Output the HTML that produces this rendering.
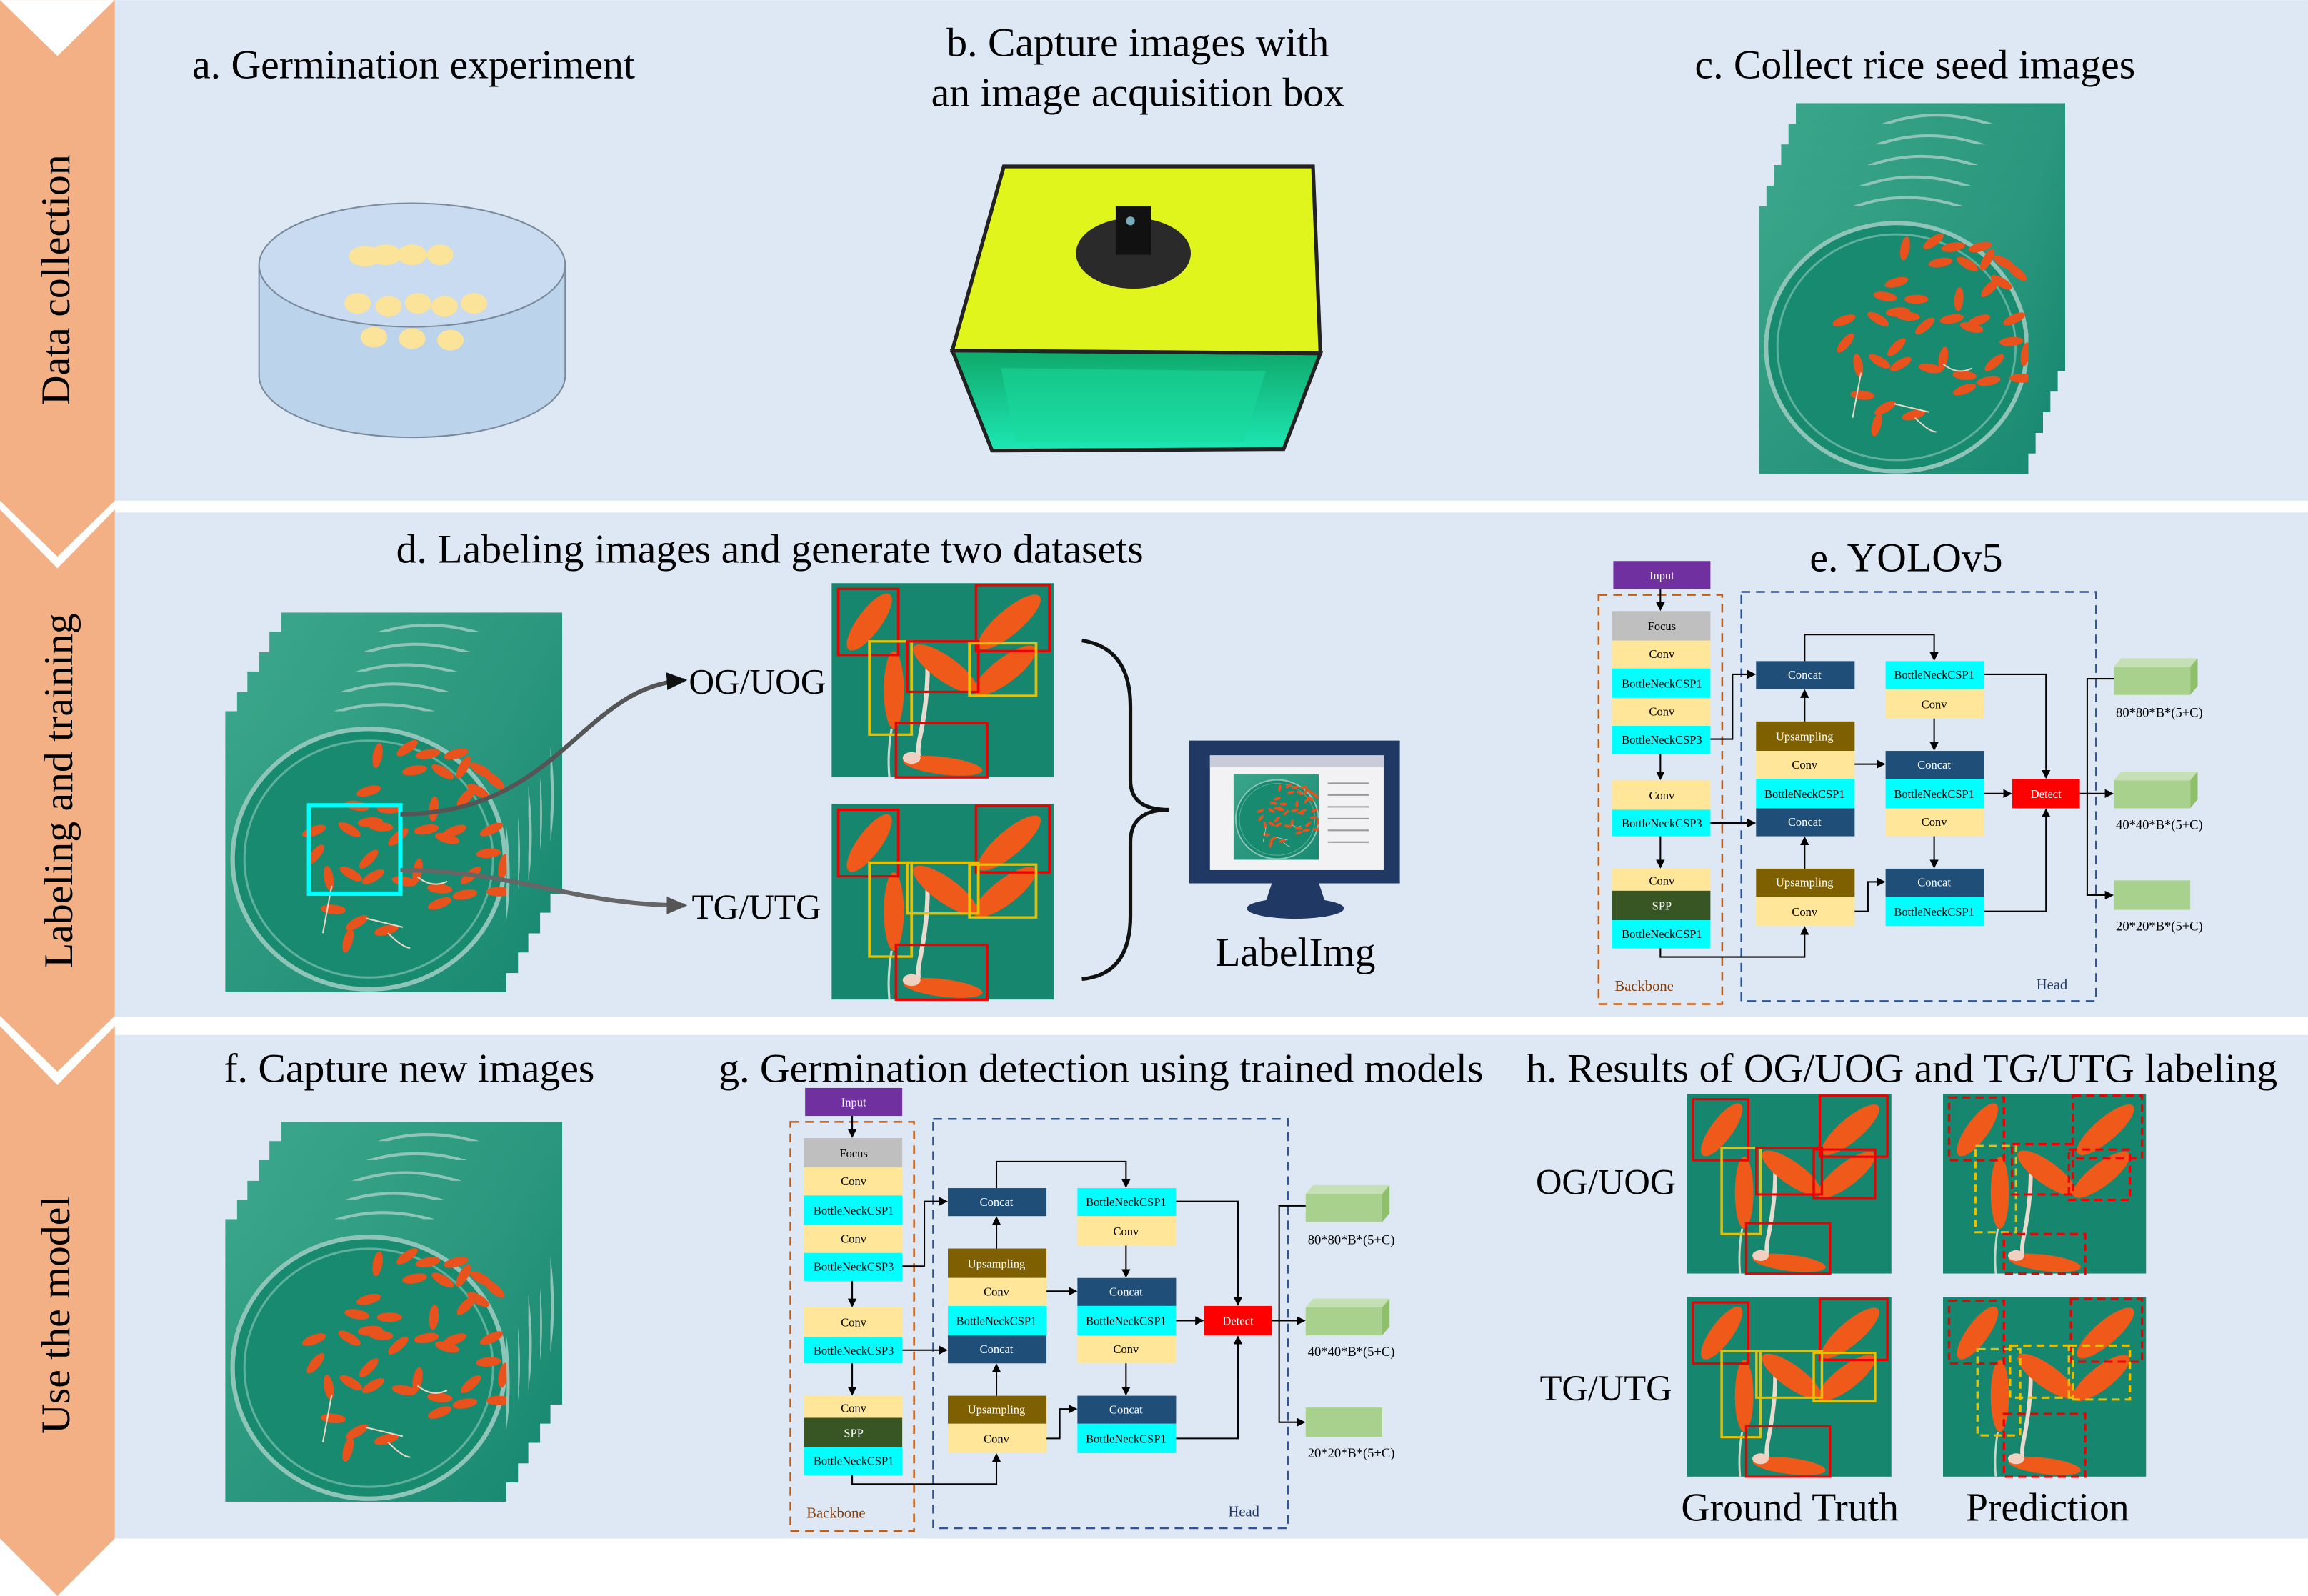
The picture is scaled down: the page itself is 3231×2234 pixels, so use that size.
<!DOCTYPE html>
<html><head><meta charset="utf-8"><style>
html,body{margin:0;padding:0;background:#fff;}
svg{display:block;}
text{font-family:"Liberation Serif",serif;}
</style></head><body>
<svg width="3231" height="2234" viewBox="0 0 1568 1084" xmlns="http://www.w3.org/2000/svg" xmlns:xlink="http://www.w3.org/1999/xlink">
<defs>
<marker id="ah" markerWidth="6" markerHeight="6" refX="5" refY="3" orient="auto" markerUnits="userSpaceOnUse"><path d="M0,0 L6,3 L0,6 z" fill="#000"/></marker>
<marker id="ahb" markerWidth="14" markerHeight="12" refX="12" refY="6" orient="auto" markerUnits="userSpaceOnUse"><path d="M0,0 L14,6 L0,12 z" fill="#111"/></marker>
<marker id="ahg" markerWidth="14" markerHeight="12" refX="12" refY="6" orient="auto" markerUnits="userSpaceOnUse"><path d="M0,0 L14,6 L0,12 z" fill="#555"/></marker>
<linearGradient id="teal" x1="0" y1="0" x2="1" y2="1"><stop offset="0" stop-color="#3aa58a"/><stop offset="1" stop-color="#1a8a72"/></linearGradient>
<linearGradient id="grn" x1="0" y1="0" x2="0" y2="1"><stop offset="0" stop-color="#0fa86a"/><stop offset="1" stop-color="#1de8b4"/></linearGradient>
<g id="seed"><ellipse cx="0" cy="0" rx="8.5" ry="3.2" fill="#e8521c"/></g>
<symbol id="dish" viewBox="0 0 190 190" preserveAspectRatio="none">
<rect width="190" height="190" fill="url(#teal)"/>
<ellipse cx="97" cy="100" rx="92" ry="88" fill="#178a70" stroke="#8fc5b8" stroke-width="3"/>
<ellipse cx="97" cy="100" rx="84" ry="80" fill="none" stroke="#5fb09d" stroke-width="1.5"/>
<g>
<use xlink:href="#seed" transform="translate(103,30) rotate(-80)"/>
<use xlink:href="#seed" transform="translate(123,25) rotate(-35)"/>
<use xlink:href="#seed" transform="translate(137,29) rotate(-10)"/>
<use xlink:href="#seed" transform="translate(156,29) rotate(-15)"/>
<use xlink:href="#seed" transform="translate(161,38) rotate(-60)"/>
<use xlink:href="#seed" transform="translate(173,40) rotate(30)"/>
<use xlink:href="#seed" transform="translate(182,47) rotate(40)"/>
<use xlink:href="#seed" transform="translate(128,40) rotate(-10)"/>
<use xlink:href="#seed" transform="translate(147,41) rotate(30)"/>
<use xlink:href="#seed" transform="translate(171,54) rotate(30)"/>
<use xlink:href="#seed" transform="translate(163,58) rotate(-45)"/>
<use xlink:href="#seed" transform="translate(97,54) rotate(-15)"/>
<use xlink:href="#seed" transform="translate(89,64) rotate(10)"/>
<use xlink:href="#seed" transform="translate(111,66) rotate(0)"/>
<use xlink:href="#seed" transform="translate(141,66) rotate(-85)"/>
<use xlink:href="#seed" transform="translate(98,75) rotate(-5)"/>
<use xlink:href="#seed" transform="translate(155,81) rotate(-20)"/>
<use xlink:href="#seed" transform="translate(180,80) rotate(-25)"/>
<use xlink:href="#seed" transform="translate(60,81) rotate(-20)"/>
<use xlink:href="#seed" transform="translate(84,80) rotate(30)"/>
<use xlink:href="#seed" transform="translate(105,78) rotate(5)"/>
<use xlink:href="#seed" transform="translate(117,85) rotate(-40)"/>
<use xlink:href="#seed" transform="translate(136,80) rotate(-10)"/>
<use xlink:href="#seed" transform="translate(150,86) rotate(15)"/>
<use xlink:href="#seed" transform="translate(178,96) rotate(-5)"/>
<use xlink:href="#seed" transform="translate(61,97) rotate(-50)"/>
<use xlink:href="#seed" transform="translate(97,100) rotate(-45)"/>
<use xlink:href="#seed" transform="translate(70,113) rotate(80)"/>
<use xlink:href="#seed" transform="translate(85,110) rotate(30)"/>
<use xlink:href="#seed" transform="translate(100,112) rotate(-30)"/>
<use xlink:href="#seed" transform="translate(130,108) rotate(-80)"/>
<use xlink:href="#seed" transform="translate(121,115) rotate(10)"/>
<use xlink:href="#seed" transform="translate(188,105) rotate(-80)"/>
<use xlink:href="#seed" transform="translate(166,111) rotate(-40)"/>
<use xlink:href="#seed" transform="translate(145,120) rotate(5)"/>
<use xlink:href="#seed" transform="translate(162,124) rotate(-10)"/>
<use xlink:href="#seed" transform="translate(185,122) rotate(0)"/>
<use xlink:href="#seed" transform="translate(73,134) rotate(5)"/>
<use xlink:href="#seed" transform="translate(89,143) rotate(-30)"/>
<use xlink:href="#seed" transform="translate(109,148) rotate(-15)"/>
<use xlink:href="#seed" transform="translate(145,130) rotate(-20)"/>
<use xlink:href="#seed" transform="translate(83,155) rotate(-75)"/>
</g>
<path d="M72,118 L66,150 M95,140 L120,146 M110,150 Q120,160 125,160 M130,112 Q140,120 150,115" stroke="#e8d8c8" stroke-width="1" fill="none"/>
</symbol>
<symbol id="plain" viewBox="0 0 190 190" preserveAspectRatio="none">
<rect width="190" height="190" fill="url(#teal)"/>
<path d="M55,18 Q100,-2 150,20" stroke="#8fc5b8" stroke-width="2" fill="none"/>
<path d="M175,60 Q190,120 178,170" stroke="#8fc5b8" stroke-width="2" fill="none"/>
</symbol>
<symbol id="crop" viewBox="0 0 100 100" preserveAspectRatio="none">
<rect width="100" height="100" fill="#17866f"/>
<path d="M43,36 Q44,55 40,78 Q38,88 40,92" stroke="#e8dcd0" stroke-width="2" fill="none"/>
<path d="M27,75 Q25,88 26,100" stroke="#c8d8cc" stroke-width="1" fill="none"/>
<ellipse cx="17" cy="20" rx="17" ry="5.5" fill="#ef5a1a" transform="rotate(-58 17 20)"/>
<ellipse cx="80" cy="20" rx="19" ry="6" fill="#ef5a1a" transform="rotate(-45 80 20)"/>
<ellipse cx="28" cy="55" rx="4.5" ry="20" fill="#ef5a1a"/>
<ellipse cx="51" cy="44" rx="18" ry="6" fill="#ef5a1a" transform="rotate(40 51 44)"/>
<ellipse cx="78" cy="45" rx="18" ry="6" fill="#ef5a1a" transform="rotate(-42 78 45)"/>
<ellipse cx="50" cy="94" rx="18" ry="4.5" fill="#ef5a1a" transform="rotate(8 50 94)"/>
<ellipse cx="36" cy="90" rx="4" ry="3" fill="#f0d0c0"/>
</symbol>
</defs>

<rect x="0" y="0" width="1568" height="1084" fill="#fff"/>
<rect x="78" y="0" width="1490" height="340" fill="#dde8f4"/>
<rect x="78" y="348" width="1490" height="343" fill="#dde8f4"/>
<rect x="78" y="703" width="1490" height="342" fill="#dde8f4"/>

<polygon points="0,0 78,0 78,340 39,378 0,340" fill="#f3b084"/>
<polygon points="0,0 39,38 78,0" fill="#fff"/>
<polygon points="0,346 39,386 78,346 78,690 39,728 0,690" fill="#f3b084"/>
<polygon points="0,697 39,737 78,697 78,1045 39,1084 0,1045" fill="#f3b084"/>
<text transform="translate(47,190) rotate(-90)" font-size="28" text-anchor="middle">Data collection</text>
<text transform="translate(49,537) rotate(-90)" font-size="28" text-anchor="middle">Labeling and training</text>
<text transform="translate(47,893) rotate(-90)" font-size="28" text-anchor="middle">Use the model</text>

<text x="281" y="53" font-size="28" text-anchor="middle">a. Germination experiment</text>
<text x="773" y="38" font-size="28" text-anchor="middle">b. Capture images with</text>
<text x="773" y="72" font-size="28" text-anchor="middle">an image acquisition box</text>
<text x="1301" y="53" font-size="28" text-anchor="middle">c. Collect rice seed images</text>

<path d="M176,180 L176,255 A104,42 0 0 0 384,255 L384,180 Z" fill="#bcd3ec" stroke="#7a8a9a" stroke-width="1"/>
<ellipse cx="280" cy="180" rx="104" ry="42" fill="#c8dbf0" stroke="#7a8a9a" stroke-width="1"/>
<g fill="#fbe39a">
<ellipse cx="248" cy="174" rx="11" ry="7"/><ellipse cx="262" cy="173" rx="11" ry="7"/><ellipse cx="280" cy="173" rx="10" ry="7"/><ellipse cx="299" cy="173" rx="9" ry="7"/>
<ellipse cx="243" cy="206" rx="9" ry="7"/><ellipse cx="264" cy="208" rx="9" ry="7"/><ellipse cx="284" cy="206" rx="9" ry="7"/><ellipse cx="302" cy="208" rx="9" ry="7"/><ellipse cx="322" cy="206" rx="9" ry="7"/>
<ellipse cx="254" cy="229" rx="9" ry="7"/><ellipse cx="280" cy="230" rx="9" ry="7"/><ellipse cx="306" cy="231" rx="9" ry="7"/>
</g>

<polygon points="647,238 897,240 872,305 674,306" fill="url(#grn)" stroke="#222" stroke-width="2.5"/>
<polygon points="680,250 860,252 845,300 690,300" fill="#1ad99c" opacity="0.5"/>
<polygon points="682,113 892,113 897,240 647,238" fill="#dff51c" stroke="#222" stroke-width="2.5"/>
<ellipse cx="770" cy="172" rx="39" ry="24" fill="#2a2a2a"/>
<rect x="758" y="140" width="24" height="33" fill="#111"/>
<circle cx="768" cy="150" r="3" fill="#7ab"/>

<g>
<use xlink:href="#plain" x="1220" y="70" width="183" height="182"/>
<use xlink:href="#plain" x="1215" y="84" width="183" height="182"/>
<use xlink:href="#plain" x="1210" y="98" width="183" height="182"/>
<use xlink:href="#plain" x="1205" y="112" width="183" height="182"/>
<use xlink:href="#plain" x="1200" y="126" width="183" height="182"/>
<use xlink:href="#dish" x="1195" y="140" width="183" height="182"/>
</g>

<text x="523" y="382" font-size="28" text-anchor="middle">d. Labeling images and generate two datasets</text>
<text x="1295" y="388" font-size="28" text-anchor="middle">e. YOLOv5</text>
<g>
<use xlink:href="#plain" x="191" y="416" width="191" height="191"/>
<use xlink:href="#plain" x="183" y="429" width="191" height="191"/>
<use xlink:href="#plain" x="176" y="443" width="191" height="191"/>
<use xlink:href="#plain" x="168" y="456" width="191" height="191"/>
<use xlink:href="#plain" x="161" y="470" width="191" height="191"/>
<use xlink:href="#dish" x="153" y="483" width="191" height="191"/>
</g>
<rect x="210" y="547" width="62" height="60" fill="none" stroke="#00ffff" stroke-width="3"/>
<path d="M272,553 C380,553 395,466 465,462" stroke="#555" stroke-width="3" fill="none" marker-end="url(#ahb)"/>
<path d="M272,591 C350,591 390,615 465,615" stroke="#666" stroke-width="3" fill="none" marker-end="url(#ahg)"/>
<text x="468" y="471" font-size="24">OG/UOG</text>
<text x="470" y="624" font-size="24">TG/UTG</text>

<use xlink:href="#crop" x="565" y="396" width="151" height="132"/>
<g fill="none" stroke-width="1.2" transform="translate(565,396) scale(1.51,1.32)">
<rect x="3" y="3" width="27" height="34" stroke="#e00"/><rect x="65" y="1" width="33" height="34" stroke="#e00"/>
<rect x="17" y="30" width="19" height="48" stroke="#e8c000"/><rect x="34" y="30" width="32" height="26" stroke="#e00"/>
<rect x="62" y="31" width="30" height="27" stroke="#e8c000"/><rect x="29" y="72" width="41" height="28" stroke="#e00"/>
</g>
<use xlink:href="#crop" x="565" y="546" width="151" height="133"/>
<g fill="none" stroke-width="1.2" transform="translate(565,546) scale(1.51,1.33)">
<rect x="3" y="3" width="27" height="34" stroke="#e00"/><rect x="65" y="1" width="33" height="34" stroke="#e00"/>
<rect x="17" y="30" width="19" height="48" stroke="#e8c000"/><rect x="34" y="30" width="32" height="26" stroke="#e8c000"/>
<rect x="62" y="31" width="30" height="27" stroke="#e8c000"/><rect x="29" y="72" width="41" height="28" stroke="#e00"/>
</g>

<path d="M735,435 Q768,440 768,480 L768,530 Q768,550 794,550 Q768,550 768,572 L768,622 Q768,662 735,665" stroke="#111" stroke-width="2.5" fill="none"/>

<rect x="808" y="503" width="143" height="97" fill="#1f3864"/>
<rect x="822" y="513" width="118" height="78" fill="#f2f2f4"/>
<rect x="822" y="513" width="118" height="8" fill="#c8ccd8"/>
<use xlink:href="#dish" x="838" y="526" width="58" height="58"/>
<g stroke="#999" stroke-width="1"><line x1="902" y1="532" x2="930" y2="532"/><line x1="902" y1="540" x2="930" y2="540"/><line x1="902" y1="548" x2="930" y2="548"/><line x1="902" y1="556" x2="930" y2="556"/><line x1="902" y1="564" x2="930" y2="564"/><line x1="902" y1="572" x2="930" y2="572"/></g>
<polygon points="864,600 896,600 900,612 860,612" fill="#1f3864"/>
<ellipse cx="880" cy="617" rx="33" ry="7" fill="#1f3864"/>
<text x="880" y="656" font-size="28" text-anchor="middle">LabelImg</text>

<g id="yolo" font-size="8" text-anchor="middle">
<rect x="1096" y="381" width="66" height="19" fill="#7030a0"/><text x="1129" y="393.5" fill="#fff">Input</text>
<rect x="1086" y="404" width="84" height="278" fill="none" stroke="#c55a11" stroke-width="1.2" stroke-dasharray="6,4"/>
<rect x="1183" y="402" width="241" height="278" fill="none" stroke="#2f5597" stroke-width="1.2" stroke-dasharray="6,4"/>
<text x="1117" y="673" fill="#843c0c" font-size="10">Backbone</text>
<text x="1394" y="672" fill="#1f3864" font-size="10">Head</text>
<rect x="1095" y="415" width="67" height="20" fill="#bfbfbf"/><text x="1129" y="428">Focus</text>
<rect x="1095" y="435" width="67" height="19" fill="#ffe699"/><text x="1129" y="447">Conv</text>
<rect x="1095" y="454" width="67" height="20" fill="#00ffff"/><text x="1129" y="467">BottleNeckCSP1</text>
<rect x="1095" y="474" width="67" height="19" fill="#ffe699"/><text x="1129" y="486">Conv</text>
<rect x="1095" y="493" width="67" height="19" fill="#00ffff"/><text x="1129" y="505">BottleNeckCSP3</text>
<rect x="1095" y="530" width="67" height="20" fill="#ffe699"/><text x="1129" y="543">Conv</text>
<rect x="1095" y="550" width="67" height="18" fill="#00ffff"/><text x="1129" y="562">BottleNeckCSP3</text>
<rect x="1095" y="590" width="67" height="15" fill="#ffe699"/><text x="1129" y="601">Conv</text>
<rect x="1095" y="605" width="67" height="20" fill="#375623"/><text x="1129" y="618" fill="#fff">SPP</text>
<rect x="1095" y="625" width="67" height="19" fill="#00ffff"/><text x="1129" y="637">BottleNeckCSP1</text>
<rect x="1193" y="449" width="67" height="19" fill="#1f4e79"/><text x="1226" y="461" fill="#fff">Concat</text>
<rect x="1193" y="490" width="67" height="20" fill="#7f6000"/><text x="1226" y="503" fill="#fff">Upsampling</text>
<rect x="1193" y="510" width="67" height="19" fill="#ffe699"/><text x="1226" y="522">Conv</text>
<rect x="1193" y="529" width="67" height="20" fill="#00ffff"/><text x="1226" y="542">BottleNeckCSP1</text>
<rect x="1193" y="549" width="67" height="19" fill="#1f4e79"/><text x="1226" y="561" fill="#fff">Concat</text>
<rect x="1193" y="590" width="67" height="19" fill="#7f6000"/><text x="1226" y="602" fill="#fff">Upsampling</text>
<rect x="1193" y="609" width="67" height="20" fill="#ffe699"/><text x="1226" y="622">Conv</text>
<rect x="1281" y="449" width="67" height="19" fill="#00ffff"/><text x="1314" y="461">BottleNeckCSP1</text>
<rect x="1281" y="468" width="67" height="20" fill="#ffe699"/><text x="1314" y="481">Conv</text>
<rect x="1281" y="510" width="67" height="19" fill="#1f4e79"/><text x="1314" y="522" fill="#fff">Concat</text>
<rect x="1281" y="529" width="67" height="20" fill="#00ffff"/><text x="1314" y="542">BottleNeckCSP1</text>
<rect x="1281" y="549" width="67" height="19" fill="#ffe699"/><text x="1314" y="561">Conv</text>
<rect x="1281" y="590" width="67" height="19" fill="#1f4e79"/><text x="1314" y="602" fill="#fff">Concat</text>
<rect x="1281" y="609" width="67" height="20" fill="#00ffff"/><text x="1314" y="622">BottleNeckCSP1</text>
<rect x="1367" y="529" width="46" height="20" fill="#ff0000"/><text x="1390" y="542" fill="#fff">Detect</text>
<polygon points="1436,453 1441,447 1493,447 1488,453" fill="#c5e0b4"/>
<polygon points="1488,453 1493,447 1493,466 1488,472" fill="#8fbf6a"/>
<rect x="1436" y="453" width="52" height="19" fill="#a9d18e"/>
<polygon points="1436,530 1441,524 1493,524 1488,530" fill="#c5e0b4"/>
<polygon points="1488,530 1493,524 1493,543 1488,549" fill="#8fbf6a"/>
<rect x="1436" y="530" width="52" height="19" fill="#a9d18e"/>
<rect x="1436" y="598" width="52" height="20" fill="#a9d18e"/>
<text x="1467" y="487" font-size="9">80*80*B*(5+C)</text>
<text x="1467" y="563" font-size="9">40*40*B*(5+C)</text>
<text x="1467" y="632" font-size="9">20*20*B*(5+C)</text>
<g stroke="#000" stroke-width="1" fill="none">
<path d="M1128,400 V414" marker-end="url(#ah)"/>
<path d="M1128,512 V529" marker-end="url(#ah)"/>
<path d="M1128,568 V589" marker-end="url(#ah)"/>
<path d="M1162,502 H1177 V458 H1192" marker-end="url(#ah)"/>
<path d="M1162,559 H1192" marker-end="url(#ah)"/>
<path d="M1128,644 V650 H1226 V630" marker-end="url(#ah)"/>
<path d="M1226,490 V469" marker-end="url(#ah)"/>
<path d="M1226,590 V569" marker-end="url(#ah)"/>
<path d="M1226,449 V431 H1314 V448" marker-end="url(#ah)"/>
<path d="M1260,519 H1280" marker-end="url(#ah)"/>
<path d="M1260,619 H1269 V599 H1280" marker-end="url(#ah)"/>
<path d="M1314,488 V509" marker-end="url(#ah)"/>
<path d="M1314,568 V589" marker-end="url(#ah)"/>
<path d="M1348,458 H1390 V528" marker-end="url(#ah)"/>
<path d="M1348,539 H1366" marker-end="url(#ah)"/>
<path d="M1348,619 H1390 V550" marker-end="url(#ah)"/>
<path d="M1413,539 H1435" marker-end="url(#ah)"/>
<path d="M1436,461 H1418 V608 H1435" marker-end="url(#ah)"/>
</g>
</g>

<text x="278" y="735" font-size="28" text-anchor="middle">f. Capture new images</text>
<text x="748" y="735" font-size="28" text-anchor="middle">g. Germination detection using trained models</text>
<text x="1292" y="735" font-size="28" text-anchor="middle">h. Results of OG/UOG and TG/UTG labeling</text>
<g>
<use xlink:href="#plain" x="191" y="762" width="191" height="192"/>
<use xlink:href="#plain" x="183" y="775" width="191" height="192"/>
<use xlink:href="#plain" x="176" y="788" width="191" height="192"/>
<use xlink:href="#plain" x="168" y="802" width="191" height="192"/>
<use xlink:href="#plain" x="161" y="815" width="191" height="192"/>
<use xlink:href="#dish" x="153" y="828" width="191" height="192"/>
</g>
<use xlink:href="#yolo" transform="translate(-549,358)"/>

<text x="1091" y="811" font-size="24.5" text-anchor="middle">OG/UOG</text>
<text x="1091" y="951" font-size="24.5" text-anchor="middle">TG/UTG</text>
<text x="1216" y="1033" font-size="27" text-anchor="middle">Ground Truth</text>
<text x="1391" y="1033" font-size="27" text-anchor="middle">Prediction</text>

<use xlink:href="#crop" x="1146" y="743" width="139" height="122"/>
<g fill="none" stroke-width="1.2" transform="translate(1146,743) scale(1.39,1.22)">
<rect x="3" y="3" width="27" height="34" stroke="#e00"/><rect x="65" y="1" width="33" height="34" stroke="#e00"/>
<rect x="17" y="30" width="19" height="48" stroke="#e8c000"/><rect x="34" y="30" width="32" height="26" stroke="#e00"/>
<rect x="62" y="31" width="30" height="27" stroke="#e00"/><rect x="29" y="72" width="41" height="28" stroke="#e00"/>
</g>
<use xlink:href="#crop" x="1320" y="743" width="138" height="122"/>
<g fill="none" stroke-width="1.2" stroke-dasharray="4,2.5" transform="translate(1320,743) scale(1.38,1.22)">
<rect x="3" y="2" width="27" height="35" stroke="#e00"/><rect x="64" y="1" width="34" height="35" stroke="#e00"/>
<rect x="16" y="29" width="20" height="48" stroke="#e8c000"/><rect x="34" y="28" width="30" height="28" stroke="#e00"/>
<rect x="62" y="31" width="30" height="28" stroke="#e00"/><rect x="30" y="78" width="40" height="22" stroke="#e00"/>
</g>
<use xlink:href="#crop" x="1146" y="881" width="139" height="122"/>
<g fill="none" stroke-width="1.2" transform="translate(1146,881) scale(1.39,1.22)">
<rect x="3" y="3" width="27" height="34" stroke="#e00"/><rect x="65" y="1" width="33" height="34" stroke="#e00"/>
<rect x="17" y="30" width="19" height="48" stroke="#e8c000"/><rect x="34" y="30" width="32" height="26" stroke="#e8c000"/>
<rect x="62" y="31" width="30" height="27" stroke="#e8c000"/><rect x="29" y="72" width="41" height="28" stroke="#e00"/>
</g>
<use xlink:href="#crop" x="1320" y="881" width="138" height="122"/>
<g fill="none" stroke-width="1.2" stroke-dasharray="4,2.5" transform="translate(1320,881) scale(1.38,1.22)">
<rect x="3" y="2" width="27" height="35" stroke="#e00"/><rect x="63" y="1" width="35" height="35" stroke="#e00"/>
<rect x="17" y="29" width="21" height="48" stroke="#e8c000"/><rect x="33" y="27" width="31" height="29" stroke="#e8c000"/>
<rect x="62" y="27" width="30" height="30" stroke="#e8c000"/><rect x="30" y="65" width="40" height="35" stroke="#e00"/>
</g>
</svg>
</body></html>
